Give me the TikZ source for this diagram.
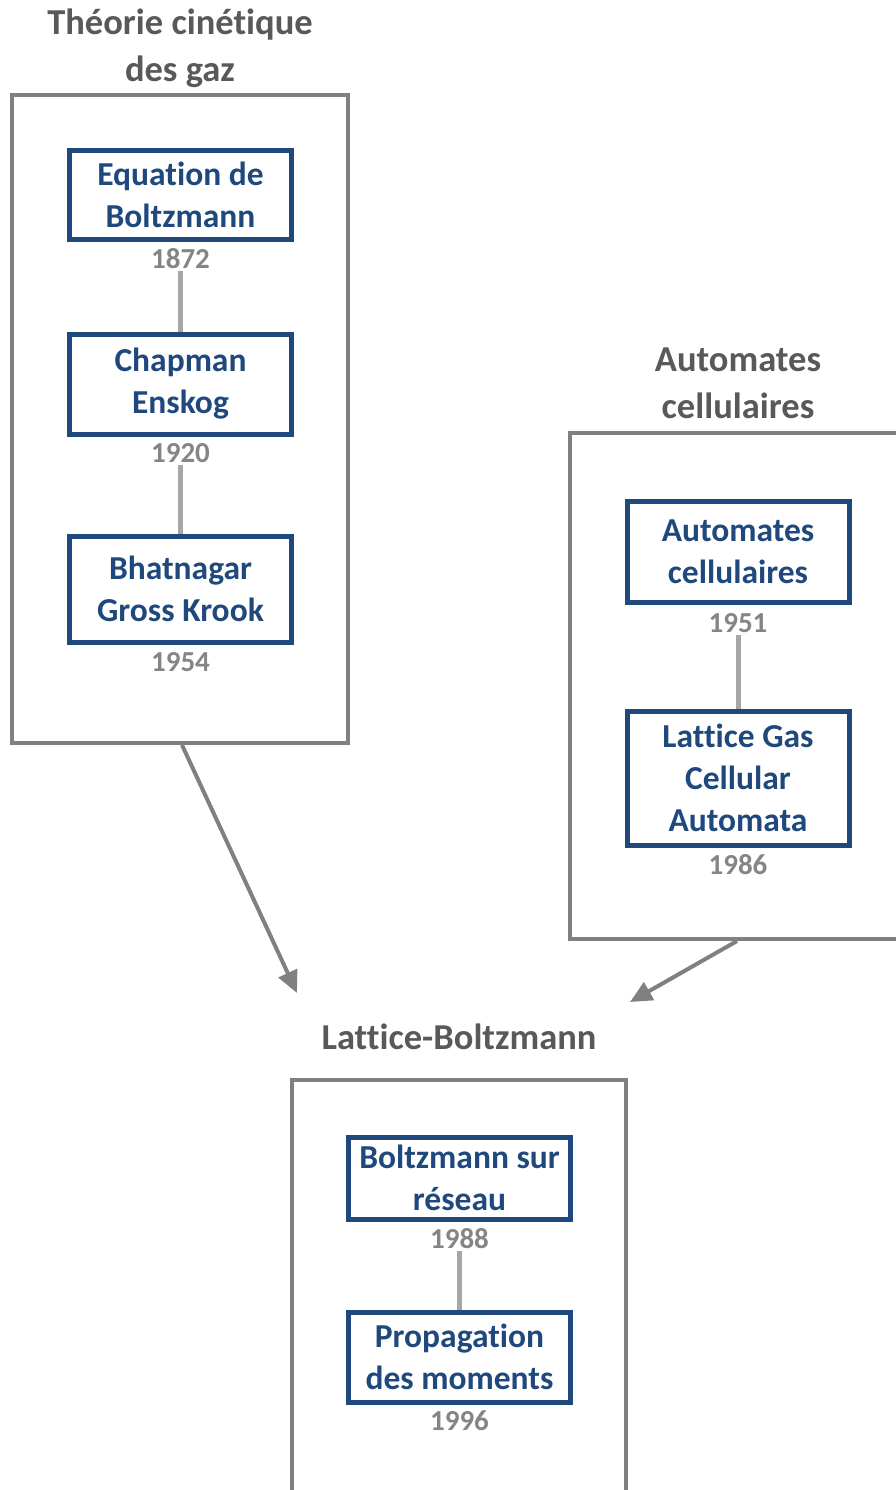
\documentclass[tikz,border=0pt]{standalone}
\usepackage{fontspec}
\setmainfont{Carlito}[Ligatures=NoCommon]
\usetikzlibrary{arrows.meta}

\definecolor{boxblue}{HTML}{1F497D}
\definecolor{framegray}{HTML}{808080}
\definecolor{titlegray}{HTML}{595959}
\definecolor{yeargray}{HTML}{858585}
\definecolor{linkgray}{HTML}{A6A6A6}

\tikzset{
    stage/.style={draw=boxblue, line width=5pt, fill=white, text=boxblue, align=center,
        minimum width=222pt, inner sep=0pt, font=\bfseries\fontsize{33.5}{42}\selectfont},
    year/.style={text=yeargray, inner sep=2pt, font=\bfseries\fontsize{29}{30}\selectfont},
    grouptitle/.style={text=titlegray, align=center, font=\bfseries\fontsize{36.5}{47}\selectfont},
    frame/.style={draw=framegray, line width=4.5pt},
    link/.style={draw=linkgray, line width=5pt},
    flow/.style={draw=framegray, line width=4pt, -{Triangle[length=22pt, width=20pt]}}
}

\begin{document}
\begin{tikzpicture}[x=1pt, y=-1pt]
    \useasboundingbox (0, 0) rectangle (896, 1490);
    \clip (0, 0) rectangle (896, 1490);

    % theorie cinetique
    \node[grouptitle] (tkg) at (180, 48) {Théorie cinétique\\des gaz};
    \draw[frame] (12, 95) rectangle (348, 743);
    \coordinate (tkgout) at (182, 745);

    \node[stage, minimum height=88pt] (eqb) at (180.5, 195) {Equation de\\Boltzmann};
    \node[year] (y1872) at (180.5, 259) {1872};
    \node[stage, minimum height=100pt] (chap) at (180.5, 384) {Chapman\\Enskog};
    \node[year] (y1920) at (180.5, 453) {1920};
    \node[stage, minimum height=106pt] (bgk) at (180.5, 589) {Bhatnagar\\Gross Krook};
    \node[year] (y1954) at (180.5, 662) {1954};

    \draw[link] (y1872.south) -- (chap.north);
    \draw[link] (y1920.south) -- (bgk.north);

    % automates cellulaires
    \node[grouptitle] (acg) at (738, 383) {Automates\\cellulaires};
    \draw[frame] (910, 433) -- (570, 433) -- (570, 939) -- (910, 939);
    \coordinate (acgout) at (737, 941);

    \node[stage, minimum height=101pt] (ac) at (738, 551.5) {Automates\\cellulaires};
    \node[year] (y1951) at (738, 623) {1951};
    \node[stage, minimum height=134pt] (lgca) at (738, 778) {Lattice Gas\\Cellular\\Automata};
    \node[year] (y1986) at (738, 865) {1986};

    \draw[link] (y1951.south) -- (lgca.north);

    % lattice boltzmann
    \node[grouptitle] (lbm) at (459, 1037) {Lattice-Boltzmann};
    \draw[frame] (292, 1500) -- (292, 1080) -- (626, 1080) -- (626, 1500);
    \coordinate (lbmin1) at (297, 993);
    \coordinate (lbmin2) at (630, 1002);

    \node[stage, minimum height=82pt] (bsr) at (459.5, 1178) {Boltzmann sur\\réseau};
    \node[year] (y1988) at (459.5, 1239) {1988};
    \node[stage, minimum height=90pt] (prop) at (459.5, 1357) {Propagation\\des moments};
    \node[year] (y1996) at (459.5, 1421) {1996};

    \draw[link] (y1988.south) -- (prop.north);

    \draw[flow] (tkgout) -- (lbmin1);
    \draw[flow] (acgout) -- (lbmin2);

\end{tikzpicture}
\end{document}
